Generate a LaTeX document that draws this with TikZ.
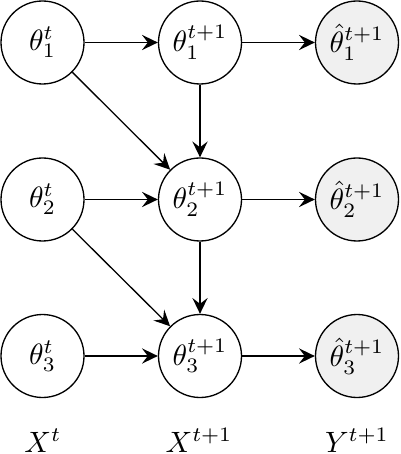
\documentclass[tikz,border=0pt]{standalone}
\usetikzlibrary{arrows.meta}
\begin{document}
\begin{tikzpicture}[x=0.34pt,y=-0.34pt,
  var/.style={circle,draw,line width=0.45pt,minimum size=83*0.34pt,inner sep=0pt},
  obs/.style={var,fill=black!6},
  arr/.style={line width=0.45pt,-{Stealth[length=5.4pt,width=5.2pt,inset=2pt]}},
  lab/.style={anchor=base,inner sep=0pt}]
\useasboundingbox (0,0) rectangle (400,454);
\node[var] (a1) at (42.5,42.5) {$\theta_1^t$};
\node[var] (a2) at (42.5,199.5) {$\theta_2^t$};
\node[var] (a3) at (42.5,356) {$\theta_3^t$};
\node[var] (b1) at (200,42.5) {$\theta_1^{t+1}$};
\node[var] (b2) at (200,199.5) {$\theta_2^{t+1}$};
\node[var] (b3) at (200,356) {$\theta_3^{t+1}$};
\node[obs] (c1) at (357,42.5) {$\hat\theta_1^{t+1}$};
\node[obs] (c2) at (357,199.5) {$\hat\theta_2^{t+1}$};
\node[obs] (c3) at (357,356) {$\hat\theta_3^{t+1}$};
\node[lab] (l1) at (43,452) {$X^t$};
\node[lab] (l2) at (199,452) {$X^{t+1}$};
\node[lab] (l3) at (357,452) {$Y^{t+1}$};
\draw[arr] (a1) -- (b1);
\draw[arr] (b1) -- (c1);
\draw[arr] (a1) -- (b2);
\draw[arr] (b1) -- (b2);
\draw[arr] (a2) -- (b2);
\draw[arr] (b2) -- (c2);
\draw[arr] (a2) -- (b3);
\draw[arr] (b2) -- (b3);
\draw[arr] (a3) -- (b3);
\draw[arr] (b3) -- (c3);
\end{tikzpicture}
\end{document}
